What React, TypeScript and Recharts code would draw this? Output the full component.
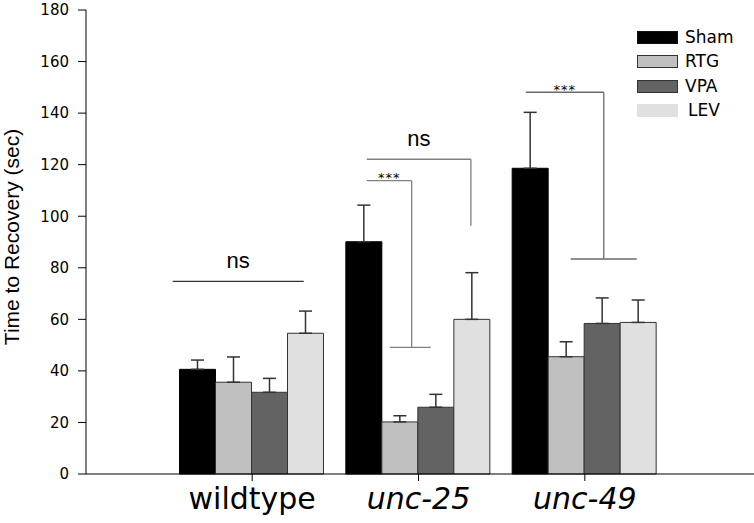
import React from 'react';
import { BarChart, Bar, XAxis, YAxis, ErrorBar, ReferenceLine, Legend } from 'recharts';

const categories = ['wildtype', 'unc-25', 'unc-49'];
const italicCategories = ['unc-25', 'unc-49'];
const seriesNames = ['Sham', 'RTG', 'VPA', 'LEV'];
const shamValues = [40.6, 90.1, 118.6];
const shamErrors = [3.6, 14.2, 21.7];
const rtgValues = [35.6, 20.2, 45.5];
const rtgErrors = [9.8, 2.4, 5.8];
const vpaValues = [31.7, 25.9, 58.4];
const vpaErrors = [5.4, 5.0, 9.9];
const levValues = [54.6, 60.0, 58.8];
const levErrors = [8.6, 18.1, 8.7];
const yTicks = [0, 20, 40, 60, 80, 100, 120, 140, 160, 180];

// significance brackets: x in category-band units (0..3), y in seconds
const bracketSegments = [
  { group: 0, x1: 0.022, y1: 74.7, x2: 0.81, y2: 74.7, label: 'ns' },
  { group: 1, x1: 1.189, y1: 122.1, x2: 1.815, y2: 122.1, label: 'ns' },
  { group: 1, x1: 1.815, y1: 122.1, x2: 1.815, y2: 96.3 },
  { group: 1, x1: 1.189, y1: 113.8, x2: 1.459, y2: 113.8, label: '***' },
  { group: 1, x1: 1.459, y1: 113.8, x2: 1.459, y2: 49.1 },
  { group: 1, x1: 1.327, y1: 49.1, x2: 1.574, y2: 49.1 },
  { group: 2, x1: 2.145, y1: 148.1, x2: 2.614, y2: 148.1, label: '***' },
  { group: 2, x1: 2.614, y1: 148.1, x2: 2.614, y2: 83.4 },
  { group: 2, x1: 2.415, y1: 83.4, x2: 2.812, y2: 83.4 },
];

const seriesValues = [shamValues, rtgValues, vpaValues, levValues];
const seriesErrors = [shamErrors, rtgErrors, vpaErrors, levErrors];
const seriesFills = ['#000000', '#c0c0c0', '#636363', '#e0e0e0'];
const seriesStrokes = ['#000000', '#333333', '#333333', '#333333'];
const legendBorders = ['1px solid #111', '1px solid #333', '1px solid #333', 'none'];
const groupStrokes = ['#333333', '#808080', '#6a6a6a'];

const data = categories.map((cat, i) => {
  const row: any = { category: cat, bandCenter: i + 0.5 };
  seriesNames.forEach((s, k) => {
    row[s] = seriesValues[k][i];
    row[s + 'Err'] = [0, seriesErrors[k][i]];
  });
  return row;
});

const CategoryTick = (props: any) => {
  const { x, y, payload } = props;
  const italic = italicCategories.includes(payload.value);
  return (
    <text
      x={x}
      y={y}
      dy={26}
      textAnchor="middle"
      fontSize={30}
      fontFamily="DejaVu Sans"
      fontStyle={italic ? 'italic' : 'normal'}
      fill="#000"
    >
      {payload.value}
    </text>
  );
};

const YLabel = (props: any) => {
  const { viewBox } = props;
  const cx = viewBox.x + 19;
  const cy = viewBox.y + viewBox.height / 2 - 5;
  return (
    <text
      x={cx}
      y={cy}
      transform={`rotate(-90, ${cx}, ${cy})`}
      textAnchor="middle"
      fontSize={21}
      fontFamily="Liberation Sans"
      fill="#000"
    >
      Time to Recovery (sec)
    </text>
  );
};

const renderLegend = (props: any) => {
  const payload = [...(props.payload || [])].sort(
    (a: any, b: any) => seriesNames.indexOf(a.value) - seriesNames.indexOf(b.value)
  );
  return (
    <div style={{ fontFamily: 'DejaVu Sans', fontSize: 17, color: '#000' }}>
      {payload.map((entry: any) => {
        const i = seriesNames.indexOf(entry.value);
        return (
          <div key={entry.value} style={{ display: 'flex', alignItems: 'center', height: 24.5 }}>
            <span
              style={{
                display: 'inline-block',
                width: 41,
                height: 13,
                boxSizing: 'border-box',
                background: entry.color,
                border: legendBorders[i],
              }}
            />
            <span style={{ marginLeft: i === 3 ? 10 : 7, lineHeight: '17px' }}>{entry.value}</span>
          </div>
        );
      })}
    </div>
  );
};

export default function App() {
  return (
    <div style={{ position: 'absolute', left: 0, top: 0 }}>
      <BarChart
        width={754}
        height={523}
        data={data}
        margin={{ top: 10, right: 0, left: 0, bottom: 0 }}
        barCategoryGap={10.5}
        barGap={0}
      >
        <XAxis
          dataKey="category"
          height={49}
          padding={{ left: 83, right: 86 }}
          stroke="#000"
          tickSize={7}
          tick={<CategoryTick />}
          interval={0}
        />
        <XAxis
          xAxisId="num"
          dataKey="bandCenter"
          type="number"
          domain={[0, 3]}
          allowDataOverflow
          hide
          padding={{ left: 83, right: 86 }}
        />
        <YAxis
          width={86}
          domain={[0, 180]}
          ticks={yTicks}
          interval={0}
          stroke="#000"
          tickSize={8}
          tickMargin={9}
          tick={{ fill: '#000', fontSize: 15, fontFamily: 'DejaVu Sans' }}
          label={<YLabel />}
        />
        <Legend
          layout="vertical"
          align="center"
          verticalAlign="middle"
          content={renderLegend}
          wrapperStyle={{ position: 'absolute', left: 637, top: 25, width: 110 }}
        />
        {seriesNames.map((s, k) => (
          <Bar
            key={s}
            dataKey={s}
            name={s}
            fill={seriesFills[k]}
            stroke={seriesStrokes[k]}
            strokeWidth={1}
            isAnimationActive={false}
          >
            <ErrorBar dataKey={s + 'Err'} width={6.5} stroke="#333" strokeWidth={1.5} direction="y" />
          </Bar>
        ))}
        {bracketSegments.map((seg, i) => (
          <ReferenceLine
            key={i}
            xAxisId="num"
            segment={[
              { x: seg.x1, y: seg.y1 },
              { x: seg.x2, y: seg.y2 },
            ]}
            stroke={groupStrokes[seg.group]}
            strokeWidth={1.3}
            ifOverflow="visible"
            label={
              seg.label
                ? seg.label === 'ns'
                  ? { value: 'ns', position: 'top', offset: 13, fontSize: 22, fontFamily: 'Liberation Sans', fill: '#000' }
                  : { value: '***', position: 'top', offset: -1.5, fontSize: 13, fontFamily: 'DejaVu Sans', fill: '#000', stroke: 'none', letterSpacing: 1 }
                : undefined
            }
          />
        ))}
      </BarChart>
    </div>
  );
}
